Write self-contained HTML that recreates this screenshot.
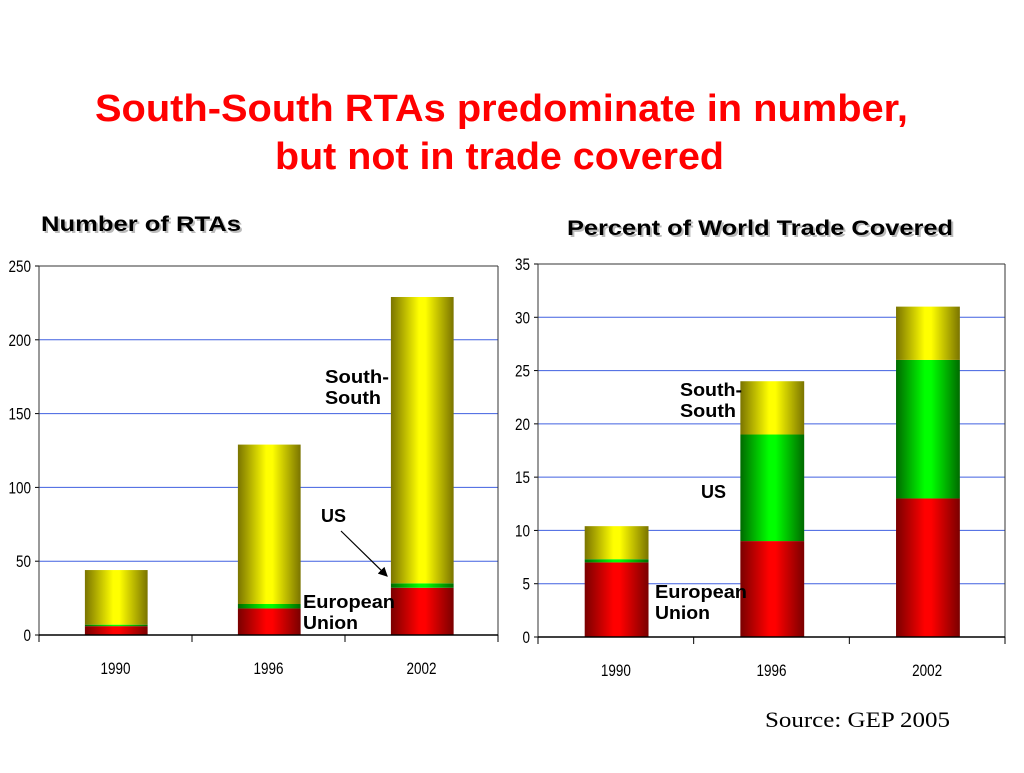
<!DOCTYPE html>
<html><head><meta charset="utf-8"><style>
body{margin:0;background:#fff;width:1024px;height:768px;overflow:hidden;font-family:"Liberation Sans",sans-serif}
</style></head><body>
<svg width="1024" height="768" xmlns="http://www.w3.org/2000/svg">
<defs>
<linearGradient id="gy" x1="0" x2="1"><stop offset="0" stop-color="#7a7400"/><stop offset="0.45" stop-color="#ffff00"/><stop offset="0.55" stop-color="#ffff00"/><stop offset="1" stop-color="#7a7400"/></linearGradient>
<linearGradient id="gg" x1="0" x2="1"><stop offset="0" stop-color="#006a00"/><stop offset="0.45" stop-color="#00ff00"/><stop offset="0.55" stop-color="#00ff00"/><stop offset="1" stop-color="#006a00"/></linearGradient>
<linearGradient id="gr" x1="0" x2="1"><stop offset="0" stop-color="#7a0000"/><stop offset="0.45" stop-color="#ff0000"/><stop offset="0.55" stop-color="#ff0000"/><stop offset="1" stop-color="#7a0000"/></linearGradient>
<marker id="ah" markerWidth="8" markerHeight="8" refX="7" refY="4" orient="auto"><path d="M0,0 L8,4 L0,8 z" fill="#000"/></marker>
</defs>
<text x="95" y="121" textLength="813" lengthAdjust="spacingAndGlyphs" font-size="38" font-weight="bold" fill="#ff0000">South-South RTAs predominate in number,</text>
<text x="275" y="169" textLength="449" lengthAdjust="spacingAndGlyphs" font-size="38" font-weight="bold" fill="#ff0000">but not in trade covered</text>
<text x="43" y="233" textLength="200" lengthAdjust="spacingAndGlyphs" font-size="21" font-weight="bold" fill="#bbb">Number of RTAs</text>
<text x="41" y="231" textLength="200" lengthAdjust="spacingAndGlyphs" font-size="21" font-weight="bold" fill="#000">Number of RTAs</text>
<text x="569" y="237" textLength="386" lengthAdjust="spacingAndGlyphs" font-size="21" font-weight="bold" fill="#bbb">Percent of World Trade Covered</text>
<text x="567" y="235" textLength="386" lengthAdjust="spacingAndGlyphs" font-size="21" font-weight="bold" fill="#000">Percent of World Trade Covered</text>
<g id="left"></g>
<g id="right"></g>
<g font-size="18" font-weight="bold" fill="#000">
<text x="325" y="383" textLength="64" lengthAdjust="spacingAndGlyphs">South-</text>
<text x="325" y="404" textLength="56" lengthAdjust="spacingAndGlyphs">South</text>
<text x="321" y="522">US</text>
<text x="303" y="608" textLength="92" lengthAdjust="spacingAndGlyphs">European</text>
<text x="303" y="629" textLength="55" lengthAdjust="spacingAndGlyphs">Union</text>
<text x="680" y="396" textLength="62" lengthAdjust="spacingAndGlyphs">South-</text>
<text x="680" y="417" textLength="56" lengthAdjust="spacingAndGlyphs">South</text>
<text x="701" y="498">US</text>
<text x="655" y="598" textLength="92" lengthAdjust="spacingAndGlyphs">European</text>
<text x="655" y="619" textLength="55" lengthAdjust="spacingAndGlyphs">Union</text>
</g>
<line x1="341" y1="531" x2="387" y2="576" stroke="#000" stroke-width="1.2" marker-end="url(#ah)"/>
<text x="765" y="727" textLength="185" lengthAdjust="spacingAndGlyphs" font-family="Liberation Serif" font-size="22" fill="#000">Source: GEP 2005</text>
</svg>
<script>
const categories=["1990","1996","2002"];
const leftEU=[6,18,32];
const leftUS=[1,3,3];
const leftSS=[37,108,194];
const leftTicks=[0,50,100,150,200,250];
const rightEU=[7,9,13];
const rightUS=[0.3,10,13];
const rightSS=[3.1,5,5];
const rightTicks=[0,5,10,15,20,25,30,35];
const NS="http://www.w3.org/2000/svg";
function mk(p,t,a){const e=document.createElementNS(NS,t);for(const k in a)e.setAttribute(k,a[k]);p.appendChild(e);return e;}
function draw(g,x0,x1,y0,yTop,max,ticks,series,prefix){
  const y=v=>y0-(y0-yTop)*v/max;
  const cw=(x1-x0)/categories.length;
  ticks.forEach(t=>{
    if(t>0&&t<max){const l=mk(g,'line',{x1:x0,x2:x1,y1:y(t),y2:y(t),stroke:'#4060e0','stroke-width':1});
    
    }
    const s=String(t);
    const tx=mk(g,'text',{x:x0-8,y:y(t)+6,'text-anchor':'end','font-size':17,fill:'#000',textLength:s.length*7.5,lengthAdjust:'spacingAndGlyphs'});
    
    
    tx.textContent=s;
    mk(g,'line',{x1:x0-4,x2:x0,y1:y(t),y2:y(t),stroke:'#000'});
  });
  mk(g,'line',{x1:x0,x2:x1,y1:yTop,y2:yTop,stroke:'#333'});
  mk(g,'line',{x1:x1,x2:x1,y1:yTop,y2:y0,stroke:'#333'});
  mk(g,'line',{x1:x0,x2:x0,y1:yTop,y2:y0,stroke:'#333'});
  const fills=['url(#gr)','url(#gg)','url(#gy)'];
  const names=['bar-eu','bar-us','bar-south-south'];
  categories.forEach((c,i)=>{
    let base=0;const bx=x0+cw*i+cw*0.3;const bw=cw*0.41;
    series.forEach((s,j)=>{
      const v=s[i];
      const r=mk(g,'rect',{x:bx,y:y(base+v),width:bw,height:y(base)-y(base+v),fill:fills[j]});
      
      
      base+=v;
    });
    const tl=mk(g,'text',{x:x0+cw*(i+0.5),y:y0+39,'text-anchor':'middle','font-size':17,fill:'#000',textLength:30,lengthAdjust:'spacingAndGlyphs'});
    
    
    tl.textContent=c;
  });
  for(let i=0;i<=categories.length;i++)mk(g,'line',{x1:x0+cw*i,x2:x0+cw*i,y1:y0,y2:y0+7,stroke:'#000'});
  mk(g,'line',{x1:x0,x2:x1,y1:y0,y2:y0,stroke:'#000','stroke-width':1.5});
}
draw(document.getElementById('left'),39,498,635,266,250,leftTicks,[leftEU,leftUS,leftSS],'left-');
draw(document.getElementById('right'),538,1005,637,264,35,rightTicks,[rightEU,rightUS,rightSS],'right-');
</script>
</body></html>
